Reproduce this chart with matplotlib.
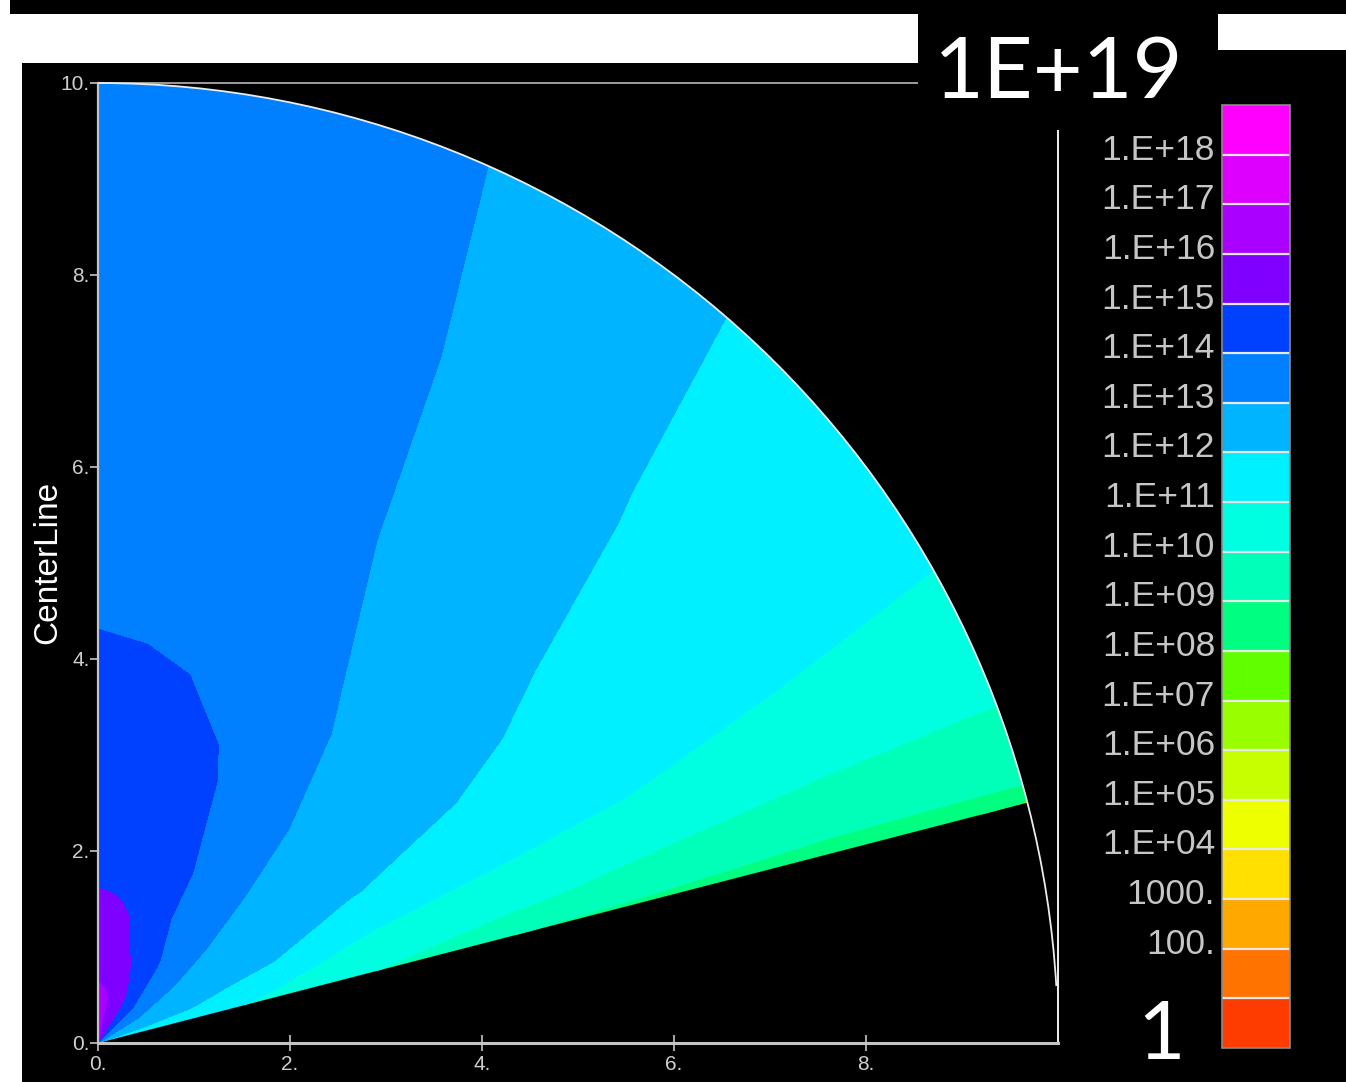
import numpy as np
import matplotlib
matplotlib.use("Agg")
import matplotlib.pyplot as plt
from matplotlib.patches import Rectangle, Wedge, Arc
from matplotlib.transforms import ScaledTranslation

# ---------------- data: log10(value) sampled on a polar grid ----------------
angles_deg = [14.5, 16, 18, 21, 25, 30, 37, 45, 53, 61, 68, 76, 83, 90]
radii = [0.0, 0.5, 1.0, 1.5, 2.0, 3.0, 4.5, 6.0, 8.0, 10.0]

log_r0  = [11.5, 11.67, 11.89, 12.15, 12.46, 12.85, 13.38, 14.0, 14.67, 15.15, 15.51, 15.95, 16.1, 16.15]
log_r05 = [11.5, 11.67, 11.89, 12.15, 12.46, 12.85, 13.38, 14.0, 14.67, 15.15, 15.51, 15.95, 16.1, 16.15]
log_r1  = [11.2, 11.35, 11.66, 12.06, 12.29, 12.59, 13.0, 13.53, 14.06, 14.51, 14.9, 15.18, 15.39, 15.6]
log_r15 = [11.05, 11.12, 11.3, 11.75, 12.14, 12.41, 12.78, 13.22, 13.65, 14.08, 14.44, 14.92, 15.04, 15.05]
log_r2  = [10.75, 10.9, 11.05, 11.4, 12.02, 12.27, 12.63, 13.04, 13.53, 14.01, 14.21, 14.44, 14.64, 14.84]
log_r3  = [10.0, 10.25, 10.55, 10.85, 11.4, 12.03, 12.39, 12.81, 13.27, 13.78, 14.12, 14.26, 14.38, 14.48]
log_r45 = [9.0, 9.56, 10.12, 10.6, 11.17, 11.75, 12.2, 12.52, 12.88, 13.26, 13.6, 13.85, 13.9, 13.93]
log_r6  = [8.8, 9.35, 9.83, 10.39, 11.01, 11.34, 11.81, 12.25, 12.63, 13.0, 13.2, 13.41, 13.61, 13.8]
log_r8  = [8.3, 9.2, 9.6, 10.16, 10.8, 11.2, 11.52, 11.95, 12.40, 12.92, 13.15, 13.33, 13.49, 13.65]
log_r10 = [7.9, 9.35, 9.62, 10.06, 10.54, 11.05, 11.39, 11.78, 12.21, 12.80, 13.08, 13.25, 13.40, 13.55]

levels = list(range(0, 20))
band_colors = ["#FF3C00", "#FF7300", "#FFA800", "#FFE000", "#EEFF00", "#C8FF00",
               "#99FF00", "#60FF00", "#00FF80", "#00FFB8", "#00FFE0", "#00F0FF",
               "#00B4FF", "#0080FF", "#0040FF", "#8000FF", "#AA00FF", "#DD00FF",
               "#FF00FF"]
cbar_ticks = list(range(2, 19))
cbar_labels = ["100.", "1000.", "1.E+04", "1.E+05", "1.E+06", "1.E+07", "1.E+08",
               "1.E+09", "1.E+10", "1.E+11", "1.E+12", "1.E+13", "1.E+14",
               "1.E+15", "1.E+16", "1.E+17", "1.E+18"]
x_ticks = [0, 2, 4, 6, 8]
x_labels = ["0.", "2.", "4.", "6.", "8."]
y_ticks = [0, 2, 4, 6, 8, 10]
y_labels = ["0.", "2.", "4.", "6.", "8.", "10."]
wedge_min_angle = 14.5
outer_radius = 10.0

Z = np.array([log_r0, log_r05, log_r1, log_r15, log_r2, log_r3,
              log_r45, log_r6, log_r8, log_r10])

# ---------------- figure ----------------
W, H = 1346, 1082
fig = plt.figure(figsize=(W / 100, H / 100), dpi=100, facecolor="white")


def px_rect(x0, y0, x1, y1, z, color="black"):
    r = Rectangle((x0 / W, 1 - y1 / H), (x1 - x0) / W, (y1 - y0) / H,
                  transform=fig.transFigure, facecolor=color, edgecolor="none",
                  zorder=z)
    fig.patches.append(r)


px_rect(10, 0, W, 14, -1)
px_rect(22, 63, W, H, -1)
px_rect(1218, 50, W, 63, -1)

ax = fig.add_axes([98 / W, 1 - 1043 / H, 960 / W, 960 / H])
ax.set_facecolor("black")
ax.set_xlim(0, 10)
ax.set_ylim(0, 10)

# mesh (outer ring repeated slightly beyond the rim, then clipped)
r_mesh = np.append(radii, outer_radius + 0.6)
Z_mesh = np.vstack([Z, Z[-1]])
TH, RR = np.meshgrid(np.deg2rad(angles_deg), r_mesh)
X = RR * np.cos(TH)
Y = RR * np.sin(TH)

cs = ax.contourf(X, Y, Z_mesh, levels=levels, colors=band_colors)
clip = Wedge((0, 0), outer_radius, wedge_min_angle, 90, transform=ax.transData,
             facecolor="none", edgecolor="none")
cs.set_clip_path(clip)

arc = Arc((0, 0), 2 * outer_radius, 2 * outer_radius, theta1=3.4, theta2=90,
          color="#ececec", lw=1.3, clip_on=False, zorder=3)
ax.add_patch(arc)

for side, c, lw in [("left", "#c4c4c4", 1.6), ("bottom", "#c4c4c4", 2.2),
                    ("top", "#b8b8b8", 1.2), ("right", "#f0f0f0", 1.4)]:
    ax.spines[side].set_color(c)
    ax.spines[side].set_linewidth(lw)

ax.set_xticks(x_ticks, labels=x_labels)
ax.set_yticks(y_ticks, labels=y_labels)
ax.tick_params(axis="x", direction="inout", length=12, width=1.2, color="#c4c4c4",
               labelcolor="#cfcfcf", labelsize=15, pad=3)
ax.tick_params(axis="y", direction="out", length=6, width=1.2, color="#c4c4c4",
               labelcolor="#cfcfcf", labelsize=15, pad=0)
for lbl in ax.get_xticklabels() + ax.get_yticklabels():
    lbl.set_family("Liberation Sans")

fig.text(48 / W, 1 - 562 / H, "CenterLine", rotation=90, ha="center", va="center",
         color="white", fontsize=24, family="Liberation Sans")

# ---------------- colorbar ----------------
cax = fig.add_axes([1222 / W, 1 - 1048 / H, 68 / W, 943 / H])
cb = fig.colorbar(cs, cax=cax, drawedges=True)
cb.set_ticks(cbar_ticks, labels=cbar_labels)
cax.yaxis.set_ticks_position("left")
cax.tick_params(length=0, pad=5, labelsize=25.5, labelcolor="#c6c6c6")
cb.outline.set_edgecolor("#8a8a8a")
cb.outline.set_linewidth(1.2)
cb.dividers.set_color("#e8e8e8")
cb.dividers.set_linewidth(1.6)
off = ScaledTranslation(0, 8 / 100, fig.dpi_scale_trans)
for lbl in cax.get_yticklabels():
    lbl.set_family("Liberation Sans")
    lbl.set_transform(lbl.get_transform() + off)

# ---------------- overlay annotations ----------------
px_rect(918, 14, 1218, 130, 5)
fig.text(1059 / W, 1 - 98 / H, "1E+19", ha="center", va="baseline", color="white",
         fontsize=62, family="Lato", zorder=6)
fig.text(1161 / W, 1 - 1059 / H, "1", ha="center", va="baseline", color="white",
         fontsize=59, family="Lato", zorder=6)

fig.savefig("out.png", dpi=100, facecolor="white")
